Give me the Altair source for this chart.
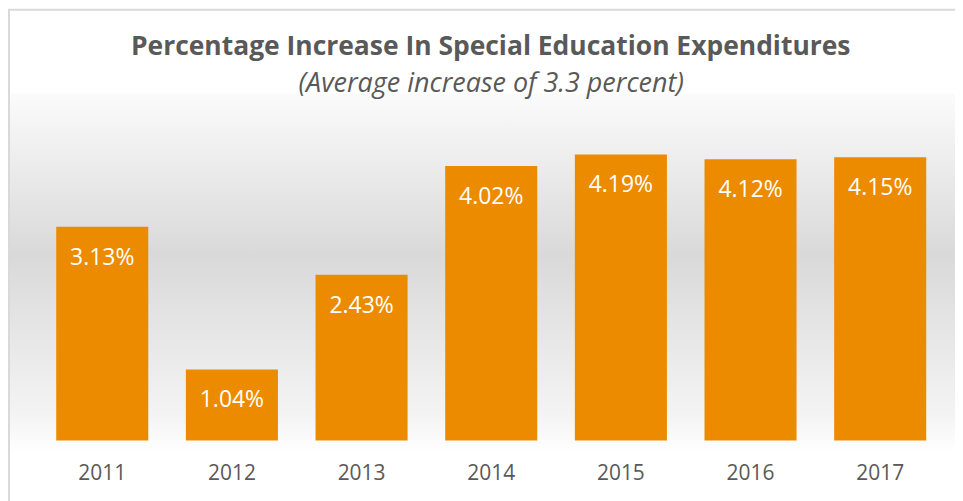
import altair as alt
import pandas as pd

years = ["2011", "2012", "2013", "2014", "2015", "2016", "2017"]
values = [3.13, 1.04, 2.43, 4.02, 4.19, 4.12, 4.15]
title_text = "Percentage Increase In Special Education Expenditures"
subtitle_text = "(Average increase of 3.3 percent)"

df = pd.DataFrame({"year": years, "value": values})

W, H = 910, 308
FONT = "Open Sans"

x_enc = alt.X("year:N", sort=years, title=None,
              scale=alt.Scale(paddingInner=0.29),
              axis=alt.Axis(labelAngle=0, ticks=False, domain=False, grid=False,
                            labelFontSize=21, labelColor="#595959", labelFont=FONT,
                            labelPadding=22))
y_enc = alt.Y("value:Q", title=None, scale=alt.Scale(domain=[0, 4.5], nice=False),
              axis=None)

one = pd.DataFrame({"a": [0]})

bg = alt.Chart(one).mark_rect(
    fill=alt.Gradient(
        gradient="linear", x1=0, y1=0, x2=0, y2=1,
        stops=[alt.GradientStop(offset=0, color="#fbfbfb"),
               alt.GradientStop(offset=0.45, color="#d9d9d9"),
               alt.GradientStop(offset=0.9, color="#f4f4f4"),
               alt.GradientStop(offset=1, color="#ffffff")]
    )
).encode(x=alt.value(-30), x2=alt.value(930), y=alt.value(-40), y2=alt.value(320))

border = alt.Chart(one).mark_rect(
    fill="transparent", stroke="#d9d9d9", strokeWidth=2
).encode(x=alt.value(-28.5), x2=alt.value(960), y=alt.value(-124), y2=alt.value(400))

title = alt.Chart(one).mark_text(
    font=FONT, fontSize=26.5, fontWeight="bold", color="#595959", align="center",
    baseline="middle"
).encode(x=alt.value(454.5), y=alt.value(-87), text=alt.value(title_text))

subtitle = alt.Chart(one).mark_text(
    font=FONT, fontSize=27, fontStyle="italic", color="#595959", align="center",
    baseline="middle"
).encode(x=alt.value(455), y=alt.value(-49), text=alt.value(subtitle_text))

bars = alt.Chart(df).mark_bar(color="#ED8B00").encode(x=x_enc, y=y_enc)

labels = alt.Chart(df).transform_calculate(
    label="format(datum.value, '.2f') + '%'"
).mark_text(color="white", fontSize=23, font=FONT, baseline="middle", dy=31).encode(
    x=alt.X("year:N", sort=years), y="value:Q", text="label:N"
)

chart = alt.layer(bg, border, title, subtitle, bars, labels).properties(
    width=W, height=H,
    padding={"left": 29.5, "top": 125, "right": 10, "bottom": 60},
    autosize=alt.AutoSizeParams(type="none"),
    background="white",
).configure_view(stroke=None)

chart.save("out.html", embed_options={"renderer": "svg", "actions": False})
